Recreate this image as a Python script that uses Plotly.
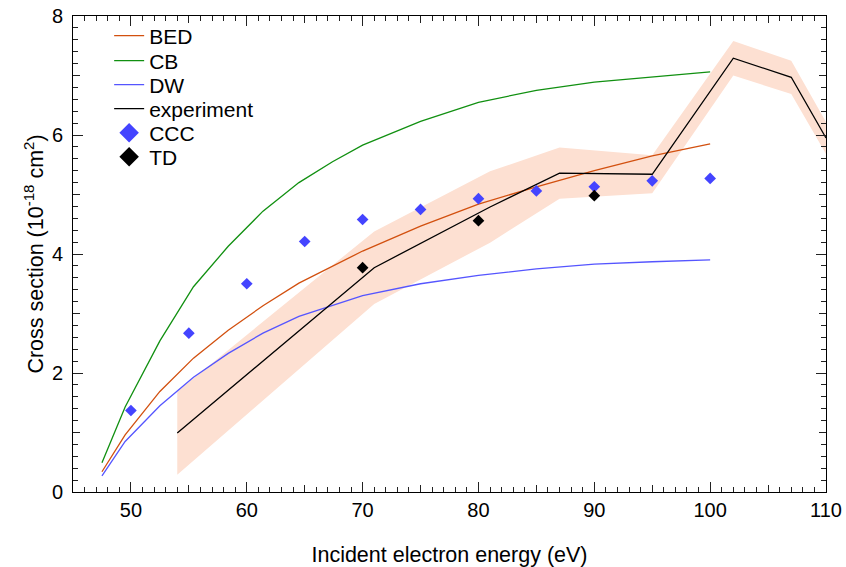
import plotly.graph_objects as go

# ---- data ----
theory_x = [47.5, 49.5, 52.5, 55.4, 58.4, 61.4, 64.5, 67.4, 70, 75, 80, 85, 90, 95, 100]
bed = [0.34, 0.96, 1.69, 2.25, 2.72, 3.13, 3.51, 3.80, 4.05, 4.47, 4.84, 5.13, 5.40, 5.65, 5.85]
cb = [0.49, 1.43, 2.54, 3.45, 4.13, 4.72, 5.20, 5.55, 5.83, 6.23, 6.55, 6.75, 6.89, 6.98, 7.06]
dw = [0.27, 0.85, 1.45, 1.93, 2.33, 2.67, 2.95, 3.14, 3.30, 3.50, 3.64, 3.75, 3.83, 3.87, 3.90]

exp_x = [54, 71, 81, 87, 95, 102, 107, 110]
exp_y = [0.99, 3.77, 4.79, 5.36, 5.34, 7.29, 6.97, 5.95]
exp_err = [0.70, 0.61, 0.60, 0.43, 0.32, 0.29, 0.28, 0.27]

ccc_x = [50, 55, 60, 65, 70, 75, 80, 85, 90, 95, 100]
ccc_y = [1.37, 2.67, 3.50, 4.21, 4.58, 4.75, 4.93, 5.06, 5.13, 5.23, 5.27]

td_x = [70, 80, 90]
td_y = [3.77, 4.56, 4.98]

x_major = [50, 60, 70, 80, 90, 100, 110]
y_major = [0, 2, 4, 6, 8]

FONT = "Liberation Sans, Arial, Helvetica, sans-serif"

upper = [y + e for y, e in zip(exp_y, exp_err)]
lower = [y - e for y, e in zip(exp_y, exp_err)]

fig = go.Figure()

fig.add_trace(go.Scatter(
    x=exp_x + exp_x[::-1], y=upper + lower[::-1], fill="toself",
    fillcolor="#fde0d2", line=dict(width=0), mode="lines",
    showlegend=False, hoverinfo="skip"))

fig.add_trace(go.Scatter(x=theory_x, y=bed, mode="lines", name="BED", legend="legend",
                         line=dict(color="#d2500f", width=1.3)))
fig.add_trace(go.Scatter(x=theory_x, y=cb, mode="lines", name="CB", legend="legend2",
                         line=dict(color="#119011", width=1.3)))
fig.add_trace(go.Scatter(x=theory_x, y=dw, mode="lines", name="DW", legend="legend3",
                         line=dict(color="#5555ff", width=1.3)))
fig.add_trace(go.Scatter(x=exp_x, y=exp_y, mode="lines", name="experiment", legend="legend4",
                         line=dict(color="black", width=1.3)))

fig.add_trace(go.Scatter(x=ccc_x, y=ccc_y, mode="markers", name="CCC", showlegend=False,
                         marker=dict(symbol="diamond", size=9, color="#4444ff")))
fig.add_trace(go.Scatter(x=td_x, y=td_y, mode="markers", name="TD", showlegend=False,
                         marker=dict(symbol="diamond", size=9, color="black")))
# legend-only entries with larger symbols
fig.add_trace(go.Scatter(x=[None], y=[None], mode="markers", name="CCC", legend="legend5",
                         marker=dict(symbol="diamond", size=15, color="#4444ff")))
fig.add_trace(go.Scatter(x=[None], y=[None], mode="markers", name="TD", legend="legend6",
                         marker=dict(symbol="diamond", size=15, color="black")))
# carrier for the secondary tick axes
fig.add_trace(go.Scatter(x=[None], y=[None], xaxis="x2", yaxis="y2",
                         showlegend=False, hoverinfo="skip"))

x_minor = [v for v in range(46, 110) if v % 5 != 0]
x_mid = [v for v in range(45, 111, 10)]
y_minor = [round(i * 0.2, 1) for i in range(1, 40) if i % 5 != 0]
y_mid = [1, 3, 5, 7]

axis_common = dict(showgrid=False, zeroline=False, ticks="inside",
                   tickcolor="#222", tickwidth=1, automargin=False)

# one single-entry legend per row, so the row spacing can follow the reference
row_px = [36, 61, 85, 109, 133, 157]
legends = {}
for i, r in enumerate(row_px):
    key = "legend" if i == 0 else f"legend{i + 1}"
    legends[key] = dict(x=0.048, y=1 - (r - 16) / 476, xanchor="left", yanchor="middle",
                        bgcolor="rgba(0,0,0,0)", font=dict(size=21))

fig.update_layout(
    width=846, height=567,
    margin=dict(l=73, r=20, t=16, b=75, autoexpand=False),
    paper_bgcolor="white", plot_bgcolor="white",
    font=dict(family=FONT, size=20, color="black"),
    showlegend=True,
    xaxis=dict(range=[45, 110], tickmode="array", tickvals=x_major,
               ticklen=10, showline=True, linecolor="black", linewidth=1,
               mirror="ticks",
               minor=dict(tickmode="array", tickvals=x_minor, ticklen=5,
                          ticks="inside", tickcolor="#222"),
               title=dict(text="Incident electron energy (eV)", standoff=26,
                          font=dict(size=21.5)),
               **axis_common),
    yaxis=dict(range=[0, 8], tickmode="array", tickvals=y_major,
               ticklen=10, showline=True, linecolor="black", linewidth=1,
               mirror="ticks", ticklabelstandoff=5,
               minor=dict(tickmode="array", tickvals=y_minor, ticklen=5,
                          ticks="inside", tickcolor="#222"),
               title=dict(text="Cross section (10<sup>-18</sup> cm<sup>2</sup>)", standoff=2,
                          font=dict(size=21.5)),
               **axis_common),
    xaxis2=dict(range=[45, 110], overlaying="x", anchor="y", side="bottom",
                tickmode="array", tickvals=x_mid, ticklen=7,
                showticklabels=False, showline=False, mirror="ticks",
                **axis_common),
    yaxis2=dict(range=[0, 8], overlaying="y", anchor="x", side="left",
                tickmode="array", tickvals=y_mid, ticklen=7,
                showticklabels=False, showline=False, mirror="ticks",
                **axis_common),
    **legends,
)

fig.write_html("out.html", config={"displayModeBar": False},
               post_script="document.body.style.margin='0';")
